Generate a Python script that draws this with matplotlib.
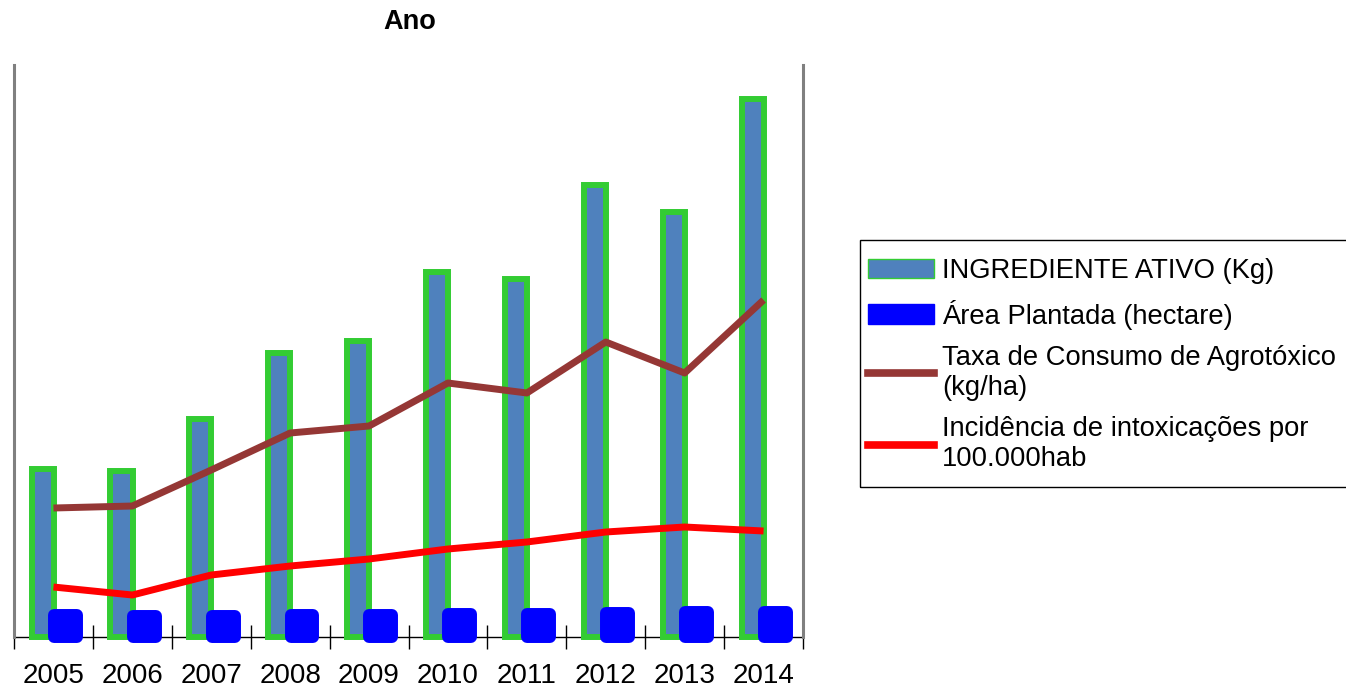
# coding=utf-8
import matplotlib
matplotlib.use("Agg")
from matplotlib import pyplot as plt
from matplotlib.patches import Patch, Rectangle
from matplotlib.lines import Line2D

plt.rcParams['font.family'] = ['Liberation Sans', 'DejaVu Sans']

# anos
anos = ['2005', '2006', '2007', '2008', '2009', '2010', '2011', '2012', '2013', '2014']
# valores (escala relativa, sem eixo y)
ingrediente = [168, 166, 218, 284, 296, 365, 358, 452, 425, 538]
area = [22, 21, 21, 22, 22, 23, 23, 24, 25, 25]
taxa = [129, 131, 167, 204, 211, 254, 244, 295, 264, 337]
incidencia = [50, 42, 62, 71, 78, 88, 95, 105, 110, 106]

nomes = ['INGREDIENTE ATIVO (Kg)', 'Área Plantada (hectare)',
         'Taxa de Consumo de Agrotóxico\n(kg/ha)',
         'Incidência de intoxicações por\n100.000hab']

W, H = 1346, 688
fig = plt.figure(figsize=(W / 100, H / 100), dpi=100)
ax = fig.add_axes([14 / W, 1 - 637 / H, 789 / W, 572 / H])

x = list(range(len(anos)))

b1 = ax.bar([i - 0.138 for i in x], ingrediente, width=0.28, color='#4F81BD',
            edgecolor='#33CC33', linewidth=4.3, zorder=2)
b2 = ax.bar([i + 0.15 for i in x], area, width=0.29, color='#0000FF',
            edgecolor='#0000FF', linewidth=8.6, zorder=3)
for r in b1:
    r.set_clip_on(False)
for r in b2:
    r.set_clip_on(False)
    r.set_joinstyle('round')

ax.plot(x, taxa, color='#953735', linewidth=5, zorder=4, solid_capstyle='butt')
ax.plot(x, incidencia, color='#FF0000', linewidth=5, zorder=4, solid_capstyle='butt')

ax.set_xlim(-0.5, len(anos) - 0.5)
ax.set_ylim(0, 572)

# marcas nas divisoes, rotulos no centro
ax.set_xticks([i - 0.5 for i in range(len(anos) + 1)])
ax.set_xticklabels([])
ax.set_xticks(x, minor=True)
ax.set_xticklabels(anos, minor=True, fontsize=20)
ax.tick_params(axis='x', which='major', direction='inout', length=17, width=1, color='black')
ax.tick_params(axis='x', which='minor', length=0, pad=19)
ax.set_yticks([])

ax.spines['top'].set_visible(False)
for s in ['left', 'right']:
    ax.spines[s].set_color('#808080')
    ax.spines[s].set_linewidth(2.2)
ax.spines['bottom'].set_color('black')
ax.spines['bottom'].set_linewidth(1)
ax.spines['bottom'].set_zorder(1)

fig.text(410 / W, 1 - 22 / H, 'Ano', fontsize=19.5, fontweight='bold',
         ha='center', va='center')

handles = [
    Patch(facecolor='#4F81BD', edgecolor='#33CC33', linewidth=1),
    Patch(facecolor='#0000FF', edgecolor='#0000FF', linewidth=1),
    Line2D([], [], color='#953735', linewidth=5.5),
    Line2D([], [], color='#FF0000', linewidth=5.5),
]
leg = fig.legend(handles, nomes, loc='upper left',
                 bbox_to_anchor=(860 / W, 1 - 250 / H),
                 bbox_transform=fig.transFigure, fontsize=19.7,
                 frameon=False, borderaxespad=0,
                 handlelength=2.4, handletextpad=0.3, labelspacing=0.56,
                 borderpad=0.3)

# moldura da legenda
fig.patches.append(Rectangle((860 / W, 1 - 487 / H), 490 / W, 247 / H,
                             transform=fig.transFigure, fill=False,
                             edgecolor='black', linewidth=1))

plt.savefig('out.png', dpi=100)
